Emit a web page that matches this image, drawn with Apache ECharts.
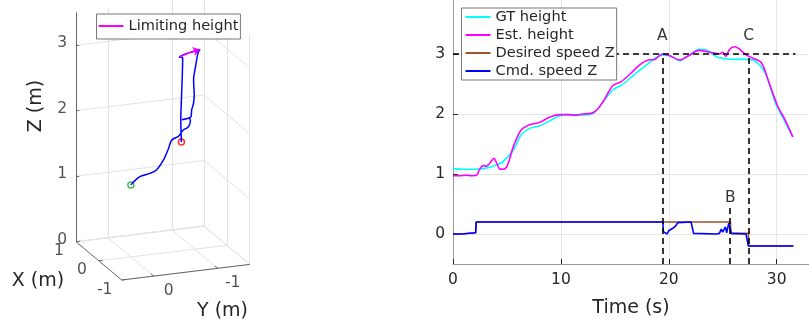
<!DOCTYPE html>
<html>
<head>
<meta charset="utf-8">
<script src="https://cdn.jsdelivr.net/npm/echarts@6/dist/echarts.min.js"></script>
<style>
html, body { margin: 0; padding: 0; background: #fff; }
#chart { width: 809px; height: 326px; }
</style>
</head>
<body>
<div id="chart"></div>
<script>
// ---- right panel: height and vertical speed over time ----
var gtTime = [0, 1, 2, 2.8, 3.7, 4.6, 5.6, 6.3, 7.1, 8.0, 9.0, 9.9, 10.8, 12.0, 13.0, 13.9, 14.8, 15.6, 16.5, 17.3,
              18.1, 18.7, 19.4, 20.1, 21.0, 21.9, 22.8, 23.6, 24.4, 25.3, 26.2, 27.2, 27.8, 28.4, 29.0, 29.9, 30.6, 31.5];
var gtHeight = [1.09, 1.08, 1.08, 1.09, 1.13, 1.20, 1.40, 1.65, 1.76, 1.80, 1.89, 1.97, 1.99, 1.98, 2.01, 2.20, 2.40, 2.48, 2.61, 2.73,
                2.84, 2.93, 2.98, 2.97, 2.89, 2.98, 3.08, 3.06, 2.96, 2.92, 2.91, 2.91, 2.90, 2.82, 2.66, 2.18, 1.93, 1.62];

var estTime = [0, 0.6, 1.2, 1.8, 2.2, 2.5, 2.8, 3.1, 3.4, 3.8, 4.0, 4.3, 4.6, 4.9, 5.2, 5.6, 6.3, 7.1, 8.0, 9.0,
               9.9, 10.6, 11.4, 12.0, 12.8, 13.4, 14.0, 14.8, 15.6, 16.5, 17.3, 18.1, 18.7, 19.4, 20.1, 21.0, 21.9, 22.8, 23.8, 24.4,
               24.7, 25.0, 25.3, 25.6, 26.1, 26.5, 27.2, 27.8, 28.6, 29.3, 30.1, 30.7, 31.5];
var estHeight = [0.97, 0.97, 0.98, 0.97, 0.98, 1.09, 1.14, 1.13, 1.18, 1.26, 1.20, 1.09, 1.08, 1.10, 1.22, 1.46, 1.73, 1.82, 1.86, 1.95,
                 1.99, 1.99, 1.98, 2.00, 2.01, 2.08, 2.23, 2.47, 2.54, 2.68, 2.82, 2.90, 2.91, 3.00, 2.97, 2.90, 2.98, 3.06, 3.03, 3.01,
                 3.00, 3.03, 2.96, 3.07, 3.12, 3.09, 2.98, 2.93, 2.85, 2.52, 2.13, 1.93, 1.62];

var desTime = [0, 0.75, 0.8, 2.1, 2.15, 25.72, 25.75, 27.38, 27.4, 31.55];
var desSpeed = [0, 0, 0.02, 0.02, 0.2, 0.2, 0.01, 0.01, -0.2, -0.2];

var cmdTime = [0, 0.75, 0.8, 2.1, 2.15, 19.45, 19.5, 19.66, 19.85, 20.0, 20.15, 20.37, 20.62, 20.83, 20.95, 22.07, 22.3, 24.4, 24.7, 24.85,
               25.0, 25.15, 25.25, 25.37, 25.56, 25.71, 25.8, 25.9, 27.16, 27.33, 27.38, 31.55];
var cmdSpeed = [0, 0, 0.02, 0.02, 0.2, 0.2, 0.04, 0.055, 0.0, 0.055, 0.03, 0.095, 0.13, 0.19, 0.2, 0.2, 0.01, 0.0, 0.01, 0.08,
                0.03, 0.01, 0.12, 0.02, 0.18, 0.2, 0.01, 0.0, 0.0, 0.01, -0.2, -0.2];

var limitHeight = 3;
var limitEnd = 31.75;
var eventName = ['A', 'B', 'C'];
var eventTime = [19.4, 25.7, 27.4];
var eventTop = [3, 0.48, 3];
var eventLabelY = [3.3, 0.6, 3.3];
var timeTicks = [0, 10, 20, 30];
var heightTicks = [0, 1, 2, 3];

// ---- left panel: 3D trajectory (metres) ----
var trajX = [0, 0, 0, 0, 0, 0, 0, 0, 0, 0, 0, 0, 0, 0, 0, 0, 0, 0, 0, 0, 0, 0, 0, 0, 0, 0, 0, 0];
var trajY = [0.00, -0.04, -0.14, -0.30, -0.40, -0.51, -0.59, -0.64, -0.74, -0.82, -0.90, -0.93, -0.91, -0.80,
             -0.94, -0.95, -0.98, -0.99, -0.98, -1.01, -1.05, -1.08, -0.92, -0.76, -0.81, -0.79, -0.78, -0.79];
var trajZ = [1.10, 1.14, 1.21, 1.24, 1.28, 1.42, 1.59, 1.71, 1.75, 1.84, 1.88, 1.97, 2.01, 2.00,
             2.03, 2.13, 2.23, 2.35, 2.59, 2.78, 2.99, 3.04, 3.01, 2.96, 2.94, 2.30, 2.02, 1.66];
var limX = [0, 0, 0];
var limY = [-0.76, -0.92, -1.08];
var limZ = [2.96, 3.01, 3.04];

var xLim = [-1, 1], yLim = [-1.5, 0.5], zLim = [0, 3.5];
var xTicks = [-1, 0, 1], yTicks = [-1, 0], zTicks = [0, 1, 2, 3];

var FONT = 'DejaVu Sans';
var INK = '#262626';

// orthographic view: screen position of corner (xmax, ymax, 0) and screen step per metre on each axis
var view = { ox: 76, oy: 241.7, ex: [-22.85, -19.15], ey: [-64, 7.8], ez: [0, -65.5] };
function proj(x, y, z) {
    var a = x - xLim[1], b = y - yLim[1];
    return [view.ox + a * view.ex[0] + b * view.ey[0] + z * view.ez[0],
            view.oy + a * view.ex[1] + b * view.ey[1] + z * view.ez[1]];
}
function zip(a, b) { return a.map(function (v, i) { return [v, b[i]]; }); }

var gridSegs = [];
var axisSegs = [];
function seg(list, p, q) { list.push({ coords: [proj(p[0], p[1], p[2]), proj(q[0], q[1], q[2])] }); }
xTicks.forEach(function (x) {
    seg(gridSegs, [x, yLim[0], 0], [x, yLim[1], 0]);
    seg(gridSegs, [x, yLim[0], zLim[0]], [x, yLim[0], zLim[1]]);
});
yTicks.forEach(function (y) {
    seg(gridSegs, [xLim[0], y, 0], [xLim[1], y, 0]);
    seg(gridSegs, [xLim[1], y, zLim[0]], [xLim[1], y, zLim[1]]);
});
zTicks.forEach(function (z) {
    seg(gridSegs, [xLim[1], yLim[0], z], [xLim[1], yLim[1], z]);
    seg(gridSegs, [xLim[0], yLim[0], z], [xLim[1], yLim[0], z]);
});
seg(gridSegs, [xLim[1], yLim[0], 0], [xLim[1], yLim[1], 0]);
seg(gridSegs, [xLim[0], yLim[0], 0], [xLim[1], yLim[0], 0]);

seg(axisSegs, [xLim[1], yLim[1], zLim[0]], [xLim[1], yLim[1], zLim[1]]);
seg(axisSegs, [xLim[1], yLim[1], 0], [xLim[0], yLim[1], 0]);
seg(axisSegs, [xLim[0], yLim[1], 0], [xLim[0], yLim[0], 0]);
zTicks.forEach(function (z) { seg(axisSegs, [xLim[1], yLim[1], z], [xLim[1], yLim[1] - 0.05, z]); });
xTicks.forEach(function (x) { seg(axisSegs, [x, yLim[1], 0], [x, yLim[1] - 0.06, 0]); });
yTicks.forEach(function (y) { seg(axisSegs, [xLim[0], y, 0], [xLim[0] + 0.12, y, 0]); });

var zLabelData = zTicks.map(function (z) { var p = proj(xLim[1], yLim[1], z); return [p[0], p[1], String(z)]; });
var xLabelData = xTicks.map(function (x) { var p = proj(x, yLim[1], 0); return [p[0], p[1], String(x)]; });
var yLabelData = yTicks.map(function (y) { var p = proj(xLim[0], y, 0); return [p[0], p[1], String(y)]; });

var trajPts = trajX.map(function (x, i) { return proj(x, trajY[i], trajZ[i]); });
var limPts = limX.map(function (x, i) { return proj(x, limY[i], limZ[i]); });

function tickLabelSeries(data, align, offset) {
    return {
        type: 'scatter', xAxisIndex: 1, yAxisIndex: 1, data: data, symbolSize: 1, silent: true,
        itemStyle: { color: 'rgba(0,0,0,0)' },
        label: {
            show: true, position: 'inside', align: align, verticalAlign: 'middle', offset: offset,
            formatter: function (p) { return p.value[2]; },
            fontSize: 15.5, color: INK, fontFamily: FONT
        }
    };
}

var eventSegs = eventTime.map(function (t, i) { return [{ coord: [t, -0.5] }, { coord: [t, eventTop[i]] }]; });
eventSegs.push([{ coord: [0, limitHeight] }, { coord: [limitEnd, limitHeight] }]);

var chart = echarts.init(document.getElementById('chart'));
var option = {
    animation: false,
    backgroundColor: '#fff',
    textStyle: { fontFamily: FONT },
    grid: [
        { left: 453, top: 0, width: 356, height: 264 },
        { left: 0, top: 0, width: 270, height: 326 }
    ],
    xAxis: [
        {
            type: 'value', gridIndex: 0, min: 0, max: 33,
            name: 'Time (s)', nameLocation: 'middle', nameGap: 35,
            nameTextStyle: { fontSize: 19, color: INK, fontFamily: FONT },
            axisLine: { show: true, onZero: false, lineStyle: { color: '#999', width: 1 } },
            axisTick: { show: true, inside: true, length: 5, customValues: timeTicks, lineStyle: { color: INK } },
            axisLabel: { customValues: timeTicks, fontSize: 15.5, color: INK, margin: 8, fontFamily: FONT },
            splitLine: { show: true, lineStyle: { color: '#e6e6e6', width: 1 } }
        },
        { type: 'value', gridIndex: 1, min: 0, max: 270, show: false }
    ],
    yAxis: [
        {
            type: 'value', gridIndex: 0, min: -0.5, max: 3.9,
            axisLine: { show: true, lineStyle: { color: '#999', width: 1 } },
            axisTick: { show: true, inside: true, length: 5, customValues: heightTicks, lineStyle: { color: INK } },
            axisLabel: { customValues: heightTicks, fontSize: 15.5, color: INK, margin: 8, fontFamily: FONT },
            splitLine: { show: true, lineStyle: { color: '#e6e6e6', width: 1 } }
        },
        { type: 'value', gridIndex: 1, min: 0, max: 326, inverse: true, show: false }
    ],
    legend: [
        {
            data: ['GT height', 'Est. height', 'Desired speed Z', 'Cmd. speed Z'],
            orient: 'vertical', left: 461.5, top: 8, icon: 'rect', itemWidth: 25, itemHeight: 2, itemGap: 0,
            padding: [0, 2, 0, 4], backgroundColor: '#fff', borderColor: '#777', borderWidth: 1, borderRadius: 0,
            z: 50, zlevel: 1,
            textStyle: { fontSize: 14.6, color: INK, lineHeight: 18, fontFamily: FONT }
        },
        {
            data: ['Limiting height'],
            orient: 'vertical', left: 96.5, top: 14, icon: 'rect', itemWidth: 25, itemHeight: 2, itemGap: 0,
            padding: [3, 2, 4, 2], backgroundColor: '#fff', borderColor: '#777', borderWidth: 1, borderRadius: 0,
            z: 50, zlevel: 1,
            textStyle: { fontSize: 14.6, color: INK, lineHeight: 18, fontFamily: FONT }
        }
    ],
    graphic: [
        { type: 'text', x: 36, y: 106, rotation: Math.PI / 2, style: { text: 'Z (m)', font: '19px "DejaVu Sans"', fill: INK, align: 'center', verticalAlign: 'middle' } },
        { type: 'text', x: 38, y: 281.5, style: { text: 'X (m)', font: '19px "DejaVu Sans"', fill: INK, align: 'center', verticalAlign: 'middle' } },
        { type: 'text', x: 222.5, y: 311.5, style: { text: 'Y (m)', font: '19px "DejaVu Sans"', fill: INK, align: 'center', verticalAlign: 'middle' } }
    ],
    series: [
        {
            name: 'GT height', type: 'line', data: zip(gtTime, gtHeight), showSymbol: false, smooth: 0.3,
            color: '#00ffff', lineStyle: { color: '#00ffff', width: 1.6 }
        },
        {
            name: 'Est. height', type: 'line', data: zip(estTime, estHeight), showSymbol: false, smooth: 0.3,
            color: '#ff00ff', lineStyle: { color: '#ff00ff', width: 1.6 }
        },
        {
            name: 'Desired speed Z', type: 'line', data: zip(desTime, desSpeed), showSymbol: false,
            color: '#a0522d', lineStyle: { color: '#a0522d', width: 1.6 }
        },
        {
            name: 'Cmd. speed Z', type: 'line', data: zip(cmdTime, cmdSpeed), showSymbol: false,
            color: '#0000ff', lineStyle: { color: '#0000ff', width: 1.6 },
            markLine: {
                silent: true, symbol: 'none', label: { show: false },
                lineStyle: { color: '#000', width: 1.6, type: [6, 4] },
                data: eventSegs
            }
        },
        {
            type: 'scatter', data: eventTime.map(function (t, i) { return [t, eventLabelY[i], eventName[i]]; }),
            symbolSize: 1, silent: true, itemStyle: { color: 'rgba(0,0,0,0)' },
            label: {
                show: true, position: 'inside', formatter: function (p) { return p.value[2]; },
                fontSize: 15.5, color: '#000', fontFamily: FONT
            }
        },
        // ---- left panel ----
        {
            type: 'lines', coordinateSystem: 'cartesian2d', xAxisIndex: 1, yAxisIndex: 1, data: gridSegs,
            silent: true, lineStyle: { color: '#e3e3e3', width: 1, opacity: 1 }
        },
        {
            type: 'lines', coordinateSystem: 'cartesian2d', xAxisIndex: 1, yAxisIndex: 1, data: axisSegs,
            silent: true, lineStyle: { color: '#666', width: 1, opacity: 1 }
        },
        tickLabelSeries(zLabelData, 'right', [-9, -2]),
        tickLabelSeries(xLabelData, 'center', [-17, 9.5]),
        tickLabelSeries(yLabelData, 'center', [15, 15]),
        {
            name: 'Trajectory', type: 'line', xAxisIndex: 1, yAxisIndex: 1, data: trajPts, showSymbol: false,
            smooth: 0.3, clip: false, color: '#0000ff', lineStyle: { color: '#0000ff', width: 1.5 }
        },
        {
            name: 'Limiting height', type: 'line', xAxisIndex: 1, yAxisIndex: 1, data: limPts, showSymbol: false,
            smooth: 0.3, clip: false, color: '#ff00ff', lineStyle: { color: '#ff00ff', width: 1.5 }
        },
        {
            type: 'lines', coordinateSystem: 'cartesian2d', xAxisIndex: 1, yAxisIndex: 1, silent: true,
            data: [{ coords: [limPts[limPts.length - 2], limPts[limPts.length - 1]] }],
            symbol: ['none', 'arrow'], symbolSize: 7,
            lineStyle: { color: '#ff00ff', width: 1.5, opacity: 1 }
        },
        {
            type: 'scatter', xAxisIndex: 1, yAxisIndex: 1, silent: true, symbolSize: 6,
            data: [trajPts[0]],
            itemStyle: { color: 'rgba(0,0,0,0)', borderColor: '#22aa22', borderWidth: 1.5 }
        },
        {
            type: 'scatter', xAxisIndex: 1, yAxisIndex: 1, silent: true, symbolSize: 6,
            data: [trajPts[trajPts.length - 1]],
            itemStyle: { color: 'rgba(0,0,0,0)', borderColor: '#ff0000', borderWidth: 1.5 }
        }
    ]
};
chart.setOption(option);
</script>
</body>
</html>
